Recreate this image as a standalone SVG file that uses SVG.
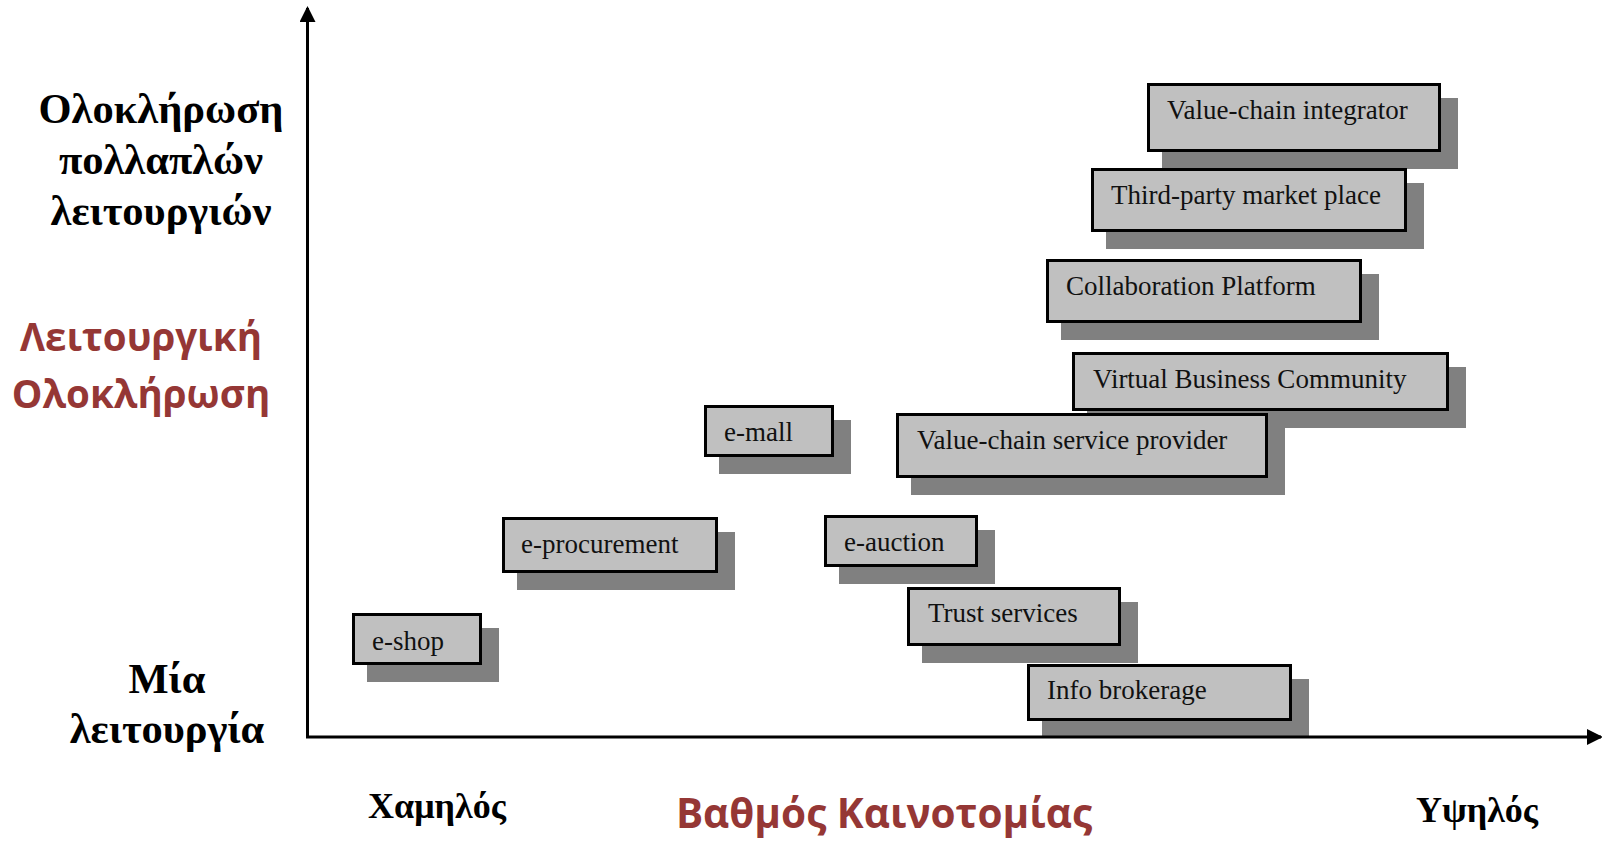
<svg xmlns="http://www.w3.org/2000/svg" width="1602" height="842" viewBox="0 0 1602 842">
<style>
.sh{fill:#808080}
.bx{fill:#c0c0c0;stroke:#000;stroke-width:3}
.lb{font-family:"Liberation Serif","Times New Roman",serif;font-size:27px;fill:#111}
.ax{font-family:"Liberation Serif","Times New Roman",serif;font-size:42.5px;font-weight:bold;fill:#000;text-anchor:middle}
.rd{font-family:"Open Sans","Noto Sans",sans-serif;font-size:38.5px;font-weight:bold;fill:#953735;text-anchor:middle}
.axl{stroke:#000;stroke-width:3;fill:none}
</style>
<defs>
<marker id="ah" markerWidth="16" markerHeight="16" refX="14" refY="8" orient="auto" markerUnits="userSpaceOnUse">
<path d="M0,0 L16,8 L0,16 Z" fill="#000"/>
</marker>
</defs>
<rect width="1602" height="842" fill="#fff"/>

<g id="labels">
<text class="ax" x="161" y="123">Ολοκλήρωση</text>
<text class="ax" x="161" y="174">πολλαπλών</text>
<text class="ax" x="161" y="225">λειτουργιών</text>
<text class="rd" x="141" y="351">Λειτουργική</text>
<text class="rd" x="141" y="408">Ολοκλήρωση</text>
<text class="ax" x="167" y="693">Μία</text>
<text class="ax" x="167" y="743">λειτουργία</text>
<text class="ax" x="437" y="818" style="font-size:36px">Χαμηλός</text>
<text class="ax" x="1477" y="822" style="font-size:36px">Υψηλός</text>
<text class="rd" x="884" y="828" style="font-size:40.5px">Βαθμός Καινοτομίας</text>
</g>

<g id="node-vci"><rect class="sh" x="1162" y="98" width="296" height="71"/><rect class="bx" x="1148.5" y="84.5" width="291" height="66"/><text class="lb" x="1167" y="119">Value-chain integrator</text></g>
<g id="node-tpm"><rect class="sh" x="1106" y="183" width="318" height="66"/><rect class="bx" x="1092.5" y="169.5" width="313" height="61"/><text class="lb" x="1111" y="204">Third-party market place</text></g>
<g id="node-collab"><rect class="sh" x="1061" y="274" width="318" height="66"/><rect class="bx" x="1047.5" y="260.5" width="313" height="61"/><text class="lb" x="1066" y="295">Collaboration Platform</text></g>
<g id="node-vbc"><rect class="sh" x="1087" y="367" width="379" height="61"/><rect class="bx" x="1073.5" y="353.5" width="374" height="56"/><text class="lb" x="1093" y="388">Virtual Business Community</text></g>
<g id="node-vcsp"><rect class="sh" x="911" y="428" width="374" height="67"/><rect class="bx" x="897.5" y="414.5" width="369" height="62"/><text class="lb" x="917" y="449">Value-chain service provider</text></g>
<g id="node-emall"><rect class="sh" x="719" y="420" width="132" height="54"/><rect class="bx" x="705.5" y="406.5" width="127" height="49"/><text class="lb" x="724" y="441">e-mall</text></g>
<g id="node-eproc"><rect class="sh" x="517" y="532" width="218" height="58"/><rect class="bx" x="503.5" y="518.5" width="213" height="53"/><text class="lb" x="521" y="553">e-procurement</text></g>
<g id="node-eauction"><rect class="sh" x="839" y="530" width="156" height="54"/><rect class="bx" x="825.5" y="516.5" width="151" height="49"/><text class="lb" x="844" y="551">e-auction</text></g>
<g id="node-trust"><rect class="sh" x="922" y="602" width="216" height="61"/><rect class="bx" x="908.5" y="588.5" width="211" height="56"/><text class="lb" x="928" y="622">Trust services</text></g>
<g id="node-info"><rect class="sh" x="1042" y="679" width="267" height="58"/><rect class="bx" x="1028.5" y="665.5" width="262" height="54"/><text class="lb" x="1047" y="699">Info brokerage</text></g>
<g id="node-eshop"><rect class="sh" x="367" y="628" width="132" height="54"/><rect class="bx" x="353.5" y="614.5" width="127" height="49"/><text class="lb" x="372" y="650">e-shop</text></g>

<g id="connectors">
<line class="axl" x1="307.5" y1="737" x2="307.5" y2="8" marker-end="url(#ah)"/>
<line class="axl" x1="306" y1="737" x2="1601" y2="737" marker-end="url(#ah)"/>
</g>
</svg>
